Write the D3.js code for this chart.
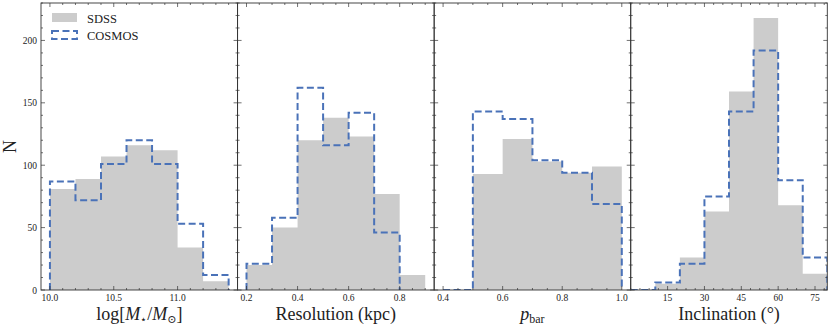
<!DOCTYPE html>
<html>
<head>
  <meta charset="utf-8">
  <script src="https://d3js.org/d3.v7.min.js"></script>
  <style>
    body { margin: 0; background: #fff; }
    text { font-family: "Liberation Serif", "DejaVu Serif", serif; fill: #222; }
  </style>
</head>
<body>
<script>
  var width = 831;
  var height = 328;

  // histogram data, one array per panel
  var massBins = [10.0, 10.2, 10.4, 10.6, 10.8, 11.0, 11.2, 11.4];
  var massSDSS = [81, 89, 107, 116, 112, 34, 7];
  var massCOSMOS = [87, 72, 101, 120, 101, 53, 12];

  var resBinsSDSS = [0.2, 0.3, 0.4, 0.5, 0.6, 0.7, 0.8, 0.9];
  var resSDSS = [20, 50, 120, 138, 123, 77, 12];
  var resBinsCOSMOS = [0.2, 0.3, 0.4, 0.5, 0.6, 0.7, 0.8];
  var resCOSMOS = [21, 58, 162, 116, 142, 46];

  var pbarBins = [0.4, 0.5, 0.6, 0.7, 0.8, 0.9, 1.0];
  var pbarSDSS = [0, 93, 121, 103, 94, 99];
  var pbarCOSMOS = [0, 143, 137, 104, 94, 69];

  var incBins = [0, 10, 20, 30, 40, 50, 60, 70, 80];
  var incSDSS = [0, 5, 26, 63, 159, 218, 68, 13];
  var incCOSMOS = [0, 6, 21, 75, 143, 192, 88, 26];

  var yTicks = [0, 50, 100, 150, 200];

  var panels = [
    { dom: [9.93, 11.47], ticks: [10.0, 10.5, 11.0], fmt: ".1f", minor: 0.1,
      bs: massBins, s: massSDSS, bc: massBins, c: massCOSMOS, label: "mass" },
    { dom: [0.165, 0.935], ticks: [0.2, 0.4, 0.6, 0.8], fmt: ".1f", minor: 0.05,
      bs: resBinsSDSS, s: resSDSS, bc: resBinsCOSMOS, c: resCOSMOS, label: "Resolution (kpc)" },
    { dom: [0.37, 1.03], ticks: [0.4, 0.6, 0.8, 1.0], fmt: ".1f", minor: 0.05,
      bs: pbarBins, s: pbarSDSS, bc: pbarBins, c: pbarCOSMOS, label: "pbar" },
    { dom: [0, 80], ticks: [15, 30, 45, 60, 75], fmt: "d", minor: 3.75,
      bs: incBins, s: incSDSS, bc: incBins, c: incCOSMOS, label: "Inclination (°)" }
  ];

  // "top" is taken by window.top, so plot edges get their own names
  var padL = 41, padR = 827.3, padT = 3, padB = 290;
  var pw = (padR - padL) / 4;
  var grey = "#cccccc";
  var blue = "#4a72b8";

  var svg = d3.select("body").append("svg")
    .attr("width", width)
    .attr("height", height);

  var y = d3.scaleLinear().domain([0, 230]).range([padB, padT]);

  // step outline from bin edges + counts
  function stepPts(edges, vals) {
    var pts = [[edges[0], 0]];
    vals.forEach(function(v, i) { pts.push([edges[i], v]); pts.push([edges[i + 1], v]); });
    pts.push([edges[edges.length - 1], 0]);
    return pts;
  }

  panels.forEach(function(p, k) {
    var x0 = padL + k * pw;
    var x = d3.scaleLinear().domain(p.dom).range([x0, x0 + pw]);
    var g = svg.append("g");

    g.append("clipPath").attr("id", "clip" + k)
      .append("rect").attr("x", x0).attr("y", padT).attr("width", pw).attr("height", padB - padT);

    var line = d3.line().x(function(d) { return x(d[0]); }).y(function(d) { return y(d[1]); });

    g.append("path")
      .attr("clip-path", "url(#clip" + k + ")")
      .attr("d", line(stepPts(p.bs, p.s)) + "Z")
      .attr("fill", grey);

    g.append("path")
      .attr("clip-path", "url(#clip" + k + ")")
      .attr("d", line(stepPts(p.bc, p.c)))
      .attr("fill", "none")
      .attr("stroke", blue)
      .attr("stroke-width", 2)
      .attr("stroke-dasharray", "7,3.5");

    // ticks, inward on all four sides
    var minors = d3.range(Math.ceil(p.dom[0] / p.minor - 1e-6), Math.floor(p.dom[1] / p.minor + 1e-6) + 1)
      .map(function(i) { return i * p.minor; });
    minors.forEach(function(v) {
      var major = p.ticks.some(function(t) { return Math.abs(t - v) < 1e-6; });
      var len = major ? 4 : 2;
      g.append("line").attr("x1", x(v)).attr("x2", x(v)).attr("y1", padB).attr("y2", padB - len)
        .attr("stroke", "#333").attr("stroke-width", 0.7);
      g.append("line").attr("x1", x(v)).attr("x2", x(v)).attr("y1", padT).attr("y2", padT + len)
        .attr("stroke", "#333").attr("stroke-width", 0.7);
    });
    d3.range(0, 231, 10).forEach(function(v) {
      var len = v % 50 == 0 ? 4 : 2;
      g.append("line").attr("x1", x0).attr("x2", x0 + len).attr("y1", y(v)).attr("y2", y(v))
        .attr("stroke", "#333").attr("stroke-width", 0.7);
      g.append("line").attr("x1", x0 + pw).attr("x2", x0 + pw - len).attr("y1", y(v)).attr("y2", y(v))
        .attr("stroke", "#333").attr("stroke-width", 0.7);
    });

    g.selectAll(".xt").data(p.ticks).enter().append("text")
      .attr("class", "xt")
      .attr("x", function(d) { return x(d); })
      .attr("y", 300.5)
      .attr("text-anchor", "middle")
      .style("font-size", "9.5px")
      .text(function(d) { return d3.format(p.fmt)(d); });

    g.append("rect")
      .attr("x", x0).attr("y", padT).attr("width", pw).attr("height", padB - padT)
      .attr("fill", "none").attr("stroke", "#333").attr("stroke-width", 0.9);

    // axis label
    var lab = g.append("text")
      .attr("x", x0 + pw / 2)
      .attr("y", 320)
      .attr("text-anchor", "middle")
      .style("font-size", "18px");
    if (p.label == "mass") {
      lab.append("tspan").text("log[");
      lab.append("tspan").style("font-style", "italic").text("M");
      lab.append("tspan").attr("dy", 3).style("font-size", "11px").text("⋆");
      lab.append("tspan").attr("dy", -3).text("/");
      lab.append("tspan").style("font-style", "italic").text("M");
      lab.append("tspan").attr("dy", 3).style("font-size", "11px").text("⊙");
      lab.append("tspan").attr("dy", -3).text("]");
    } else if (p.label == "pbar") {
      lab.append("tspan").style("font-style", "italic").text("p");
      lab.append("tspan").attr("dy", 3).style("font-size", "12px").text("bar");
    } else {
      lab.text(p.label);
    }
  });

  svg.selectAll(".yt").data(yTicks).enter().append("text")
    .attr("class", "yt")
    .attr("x", padL - 4)
    .attr("y", function(d) { return y(d) + 3.5; })
    .attr("text-anchor", "end")
    .style("font-size", "9.5px")
    .text(function(d) { return d; });

  svg.append("text")
    .attr("transform", "translate(16," + ((padT + padB) / 2) + ") rotate(-90)")
    .attr("text-anchor", "middle")
    .style("font-size", "18px")
    .text("N");

  // legend
  var leg = svg.append("g");
  leg.append("rect").attr("x", 52).attr("y", 13).attr("width", 25).attr("height", 9).attr("fill", grey);
  leg.append("rect").attr("x", 52).attr("y", 31).attr("width", 25).attr("height", 8)
    .attr("fill", "none").attr("stroke", blue).attr("stroke-width", 2).attr("stroke-dasharray", "7,3.5");
  leg.append("text").attr("x", 87).attr("y", 22.5).style("font-size", "12.5px").text("SDSS");
  leg.append("text").attr("x", 87).attr("y", 39.5).style("font-size", "12.5px").text("COSMOS");
</script>
</body>
</html>
